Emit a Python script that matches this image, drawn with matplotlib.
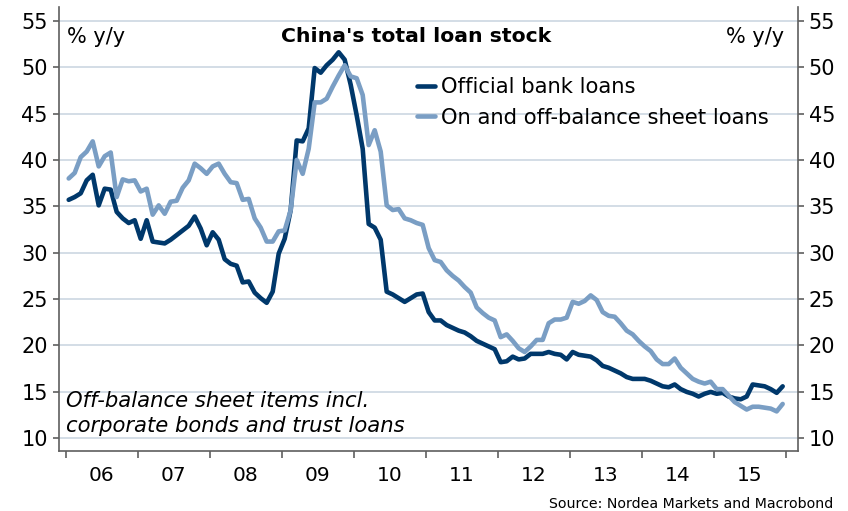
import matplotlib
matplotlib.use("Agg")
import matplotlib.pyplot as plt
import numpy as np

# monthly y/y growth, Jan 2006 - Dec 2015
official = [35.7, 36.0, 36.4, 37.8, 38.4, 35.1, 36.9, 36.8, 34.4, 33.7, 33.2, 33.5,
            31.5, 33.5, 31.2, 31.1, 31.0, 31.4, 31.9, 32.4, 32.9, 33.9, 32.6, 30.8,
            32.2, 31.4, 29.3, 28.8, 28.6, 26.8, 26.9, 25.7, 25.1, 24.6, 25.8, 29.9,
            31.5, 34.6, 42.1, 42.0, 43.4, 49.9, 49.4, 50.2, 50.8, 51.6, 50.8, 48.1,
            44.8, 41.2, 33.1, 32.7, 31.4, 25.8, 25.5, 25.1, 24.7, 25.1, 25.5, 25.6,
            23.6, 22.7, 22.7, 22.2, 21.9, 21.6, 21.4, 21.0, 20.5, 20.2, 19.9, 19.6,
            18.2, 18.3, 18.8, 18.5, 18.6, 19.1, 19.1, 19.1, 19.3, 19.1, 19.0, 18.5,
            19.3, 19.0, 18.9, 18.8, 18.4, 17.8, 17.6, 17.3, 17.0, 16.6, 16.4, 16.4,
            16.4, 16.2, 15.9, 15.6, 15.5, 15.8, 15.3, 15.0, 14.8, 14.5, 14.8, 15.0,
            14.8, 14.9, 14.5, 14.3, 14.2, 14.5, 15.8, 15.7, 15.6, 15.3, 14.9, 15.6]

total = [38.0, 38.6, 40.3, 40.9, 42.0, 39.3, 40.4, 40.8, 36.0, 37.9, 37.7, 37.8,
         36.6, 36.9, 34.1, 35.1, 34.2, 35.5, 35.6, 37.0, 37.8, 39.6, 39.1, 38.5,
         39.3, 39.6, 38.5, 37.6, 37.5, 35.7, 35.8, 33.7, 32.7, 31.2, 31.2, 32.3,
         32.4, 34.6, 40.0, 38.5, 41.2, 46.2, 46.2, 46.6, 47.9, 49.1, 50.2, 49.0,
         48.8, 47.0, 41.6, 43.2, 40.9, 35.1, 34.6, 34.7, 33.7, 33.5, 33.2, 33.0,
         30.5, 29.2, 29.0, 28.1, 27.5, 27.0, 26.3, 25.7, 24.1, 23.5, 23.0, 22.7,
         20.9, 21.2, 20.5, 19.7, 19.3, 19.9, 20.6, 20.6, 22.4, 22.8, 22.8, 23.0,
         24.7, 24.5, 24.8, 25.4, 24.9, 23.6, 23.2, 23.1, 22.4, 21.6, 21.2, 20.5,
         19.9, 19.4, 18.5, 18.0, 18.0, 18.6, 17.6, 17.0, 16.4, 16.1, 15.9, 16.1,
         15.3, 15.3, 14.6, 13.9, 13.5, 13.1, 13.4, 13.4, 13.3, 13.2, 12.9, 13.7]

years = list(range(2006, 2017))
year_labels = ['06', '07', '08', '09', '10', '11', '12', '13', '14', '15']

dark = '#00386b'
light = '#7a9ec4'
axis_col = '#5f5f5f'

W, H = 848, 511
fig = plt.figure(figsize=(W / 100, H / 100), dpi=100)
ax = fig.add_axes([59 / W, 1 - 451 / H, (797.7 - 59) / W, (451 - 7) / H])

t = 2006 + (np.arange(len(official)) + 0.5) / 12
ax.plot(t, official, color=dark, lw=3.3, solid_joinstyle='round', solid_capstyle='round',
        label='Official bank loans', zorder=3)
ax.plot(t, total, color=light, lw=3.3, solid_joinstyle='round', solid_capstyle='round',
        label='On and off-balance sheet loans', zorder=4)

ax.set_xlim(2005.907, 2016.167)
ax.set_ylim(8.63, 56.48)

ax.set_yticks(range(10, 56, 5))
ax.grid(axis='y', color='#ccd7e2', lw=1.2)
ax.set_axisbelow(True)
ax.tick_params(axis='y', left=True, right=True, labelleft=True, labelright=True,
               direction='out', length=4, width=1.2, color=axis_col, labelsize=15, pad=4)

ax.set_xticks(years)
ax.set_xticklabels([])
ax.set_xticks([y + 0.5 for y in years[:-1]], minor=True)
ax.set_xticklabels(year_labels, minor=True)
ax.tick_params(axis='x', which='major', direction='out', length=5, width=1.2, color=axis_col)
ax.tick_params(axis='x', which='minor', length=0, labelsize=14.5, pad=11)

ax.spines['top'].set_visible(False)
for s in ['left', 'right', 'bottom']:
    ax.spines[s].set_color(axis_col)
    ax.spines[s].set_linewidth(1.2)

ax.legend(loc='upper left', bbox_to_anchor=(417 / W, 1 - 77 / H), bbox_transform=fig.transFigure,
          frameon=False, fontsize=15.2, handlelength=0.85, handletextpad=0.3,
          labelspacing=0.5, borderpad=0, borderaxespad=0)

fig.text(416.5 / W, 1 - 37 / H, "China's total loan stock", fontsize=14.7, weight='bold',
         ha='center', va='center')
fig.text(67 / W, 1 - 37 / H, '% y/y', fontsize=15, ha='left', va='center')
fig.text(784 / W, 1 - 37 / H, '% y/y', fontsize=15, ha='right', va='center')

fig.text(65.7 / W, 1 - 406.5 / H, 'Off-balance sheet items incl.', fontsize=15.2,
         style='italic', ha='left', va='baseline')
fig.text(65.7 / W, 1 - 431.5 / H, 'corporate bonds and trust loans', fontsize=15.2,
         style='italic', ha='left', va='baseline')

fig.text(833 / W, 1 - 504 / H, 'Source: Nordea Markets and Macrobond', fontsize=10.2,
         ha='right', va='center')

fig.savefig('out.png', dpi=100)
